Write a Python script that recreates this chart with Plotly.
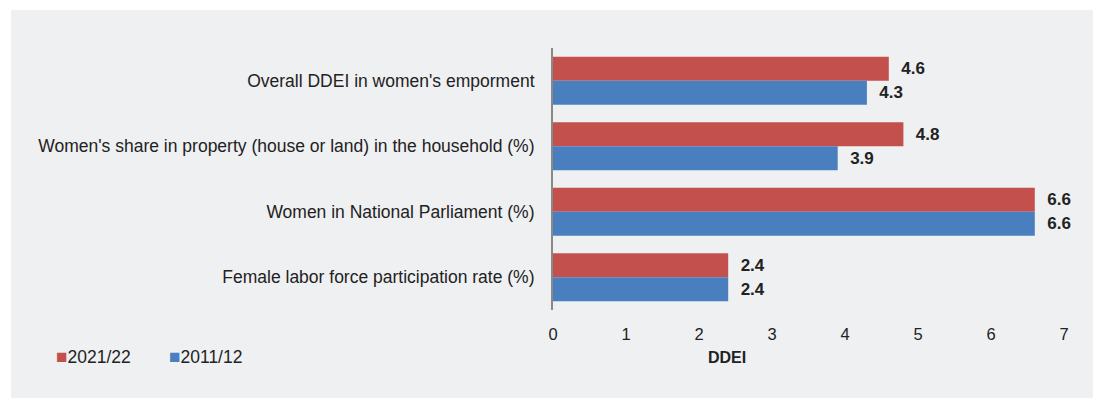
import plotly.graph_objects as go

categories = [
    "Overall DDEI in women's emporment",
    "Women's share in property (house or land) in the household (%)",
    "Women in National Parliament (%)",
    "Female labor force participation rate (%)",
]
series_names = ["2021/22", "2011/12"]
values_2021 = [4.6, 4.8, 6.6, 2.4]
values_2011 = [4.3, 3.9, 6.6, 2.4]
x_ticks = [0, 1, 2, 3, 4, 5, 6, 7]

RED = "#C4504E"
BLUE = "#4A7FBF"
BG = "#EFF0F2"
TEXT = "#222222"
FONT = "Arial, Liberation Sans"

W, H = 1099, 400
L, R, T, B = 553, 35, 48, 90
pw, ph = W - L - R, H - T - B

fig = go.Figure()
for name, vals, col in [(series_names[0], values_2021, RED), (series_names[1], values_2011, BLUE)]:
    fig.add_trace(go.Bar(
        y=categories, x=vals, name=name, orientation="h",
        marker=dict(color=col, line=dict(width=0)),
        text=[f"{v:.1f}" for v in vals],
        texttemplate="  %{text}",
        textposition="outside", cliponaxis=False,
        textfont=dict(family=FONT, size=17, color=TEXT, weight="bold"),
    ))

# grey panel behind the whole chart
fig.add_shape(type="rect", xref="paper", yref="paper",
              x0=(11 - L) / pw, x1=(1093 - L) / pw,
              y0=(T + ph - 398) / ph, y1=(T + ph - 10) / ph,
              fillcolor=BG, line=dict(width=0), layer="below")

fig.add_annotation(text="<b>DDEI</b>", xref="paper", yref="paper",
                   x=(727 - L) / pw, y=(T + ph - 357) / ph,
                   showarrow=False, xanchor="center", yanchor="middle",
                   font=dict(family=FONT, size=16, color=TEXT))

# legend entries: small coloured square followed by the series name
for name, col, x_px in [(series_names[0], RED, 54), (series_names[1], BLUE, 167)]:
    fig.add_annotation(
        text=f"<span style='color:{col};font-size:19px'>■</span>{name}",
        xref="paper", yref="paper", x=(x_px - L) / pw, y=(T + ph - 356) / ph,
        showarrow=False, xanchor="left", yanchor="middle",
        font=dict(family=FONT, size=17.5, color=TEXT))

fig.update_layout(
    width=W, height=H,
    margin=dict(l=L, r=R, t=T, b=B),
    paper_bgcolor="white", plot_bgcolor="rgba(0,0,0,0)",
    barmode="group", bargap=0.27, bargroupgap=0,
    font=dict(family=FONT, size=16, color=TEXT),
    showlegend=False,
    xaxis=dict(range=[0, 7], tickvals=x_ticks, showgrid=False, zeroline=False,
               showline=False, ticks="", ticklabelstandoff=12,
               tickfont=dict(size=16.5, color=TEXT)),
    yaxis=dict(autorange="reversed", showline=True, linecolor="#888888", linewidth=2,
               ticks="", showgrid=False, ticklabelstandoff=13,
               tickfont=dict(size=17.5, color=TEXT)),
)

fig.write_html("out.html")
